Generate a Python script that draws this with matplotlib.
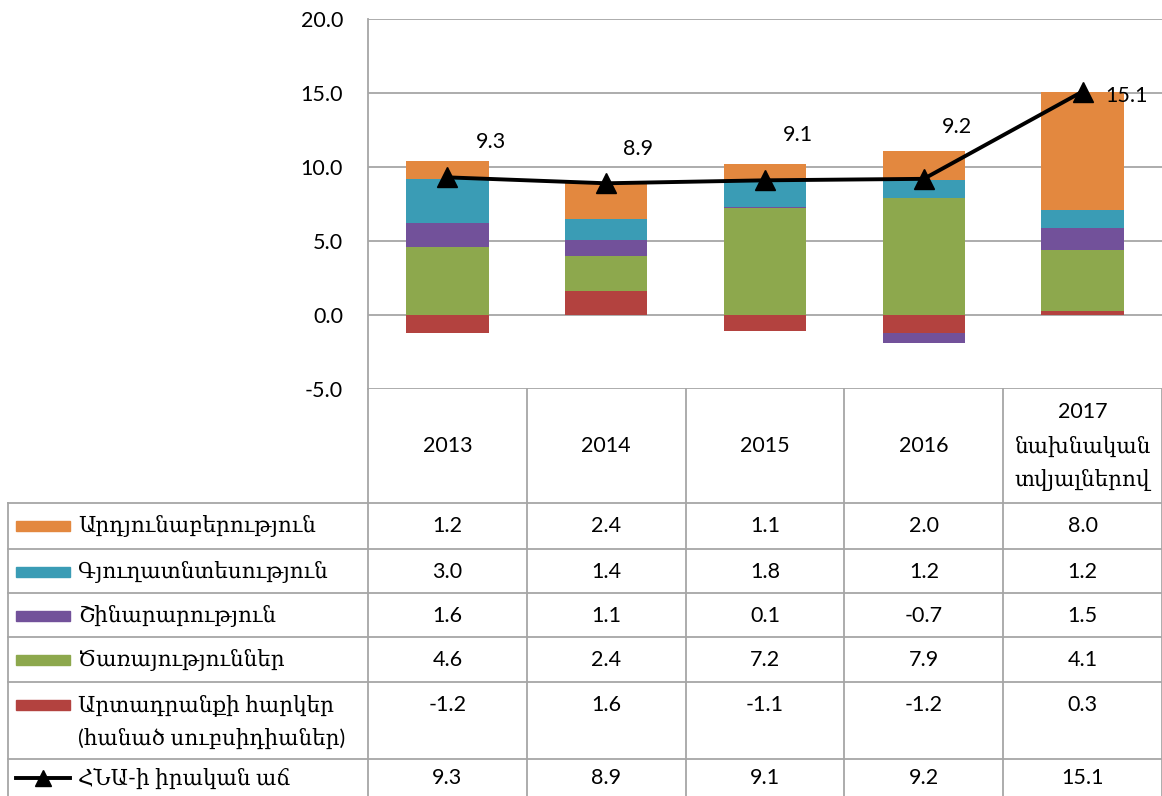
import numpy as np
import matplotlib.pyplot as plt
from matplotlib.patches import Rectangle

# data (table order, top to bottom)
years = ['2013', '2014', '2015', '2016', '2017']
header_labels = ['2013', '2014', '2015', '2016', '2017\nնախնական\nտվյալներով']

industry = [1.2, 2.4, 1.1, 2.0, 8.0]
agriculture = [3.0, 1.4, 1.8, 1.2, 1.2]
construction = [1.6, 1.1, 0.1, -0.7, 1.5]
services = [4.6, 2.4, 7.2, 7.9, 4.1]
taxes = [-1.2, 1.6, -1.1, -1.2, 0.3]
gdp_growth = [9.3, 8.9, 9.1, 9.2, 15.1]

series_names = ['Արդյունաբերություն', 'Գյուղատնտեսություն', 'Շինարարություն',
                'Ծառայություններ', 'Արտադրանքի հարկեր\n(հանած սուբսիդիաներ)']
gdp_name = 'ՀՆԱ-ի իրական աճ'

c_ind, c_agr, c_con, c_ser, c_tax = '#E3883F', '#3A9CB5', '#72519A', '#8DA84D', '#B3423F'
grid_c = '#A6A6A6'
FONT = ['Lato', 'DejaVu Serif']
FS = 15.5

W, H = 1162, 796
fig = plt.figure(figsize=(W / 100, H / 100), dpi=100)

# chart area in pixels
ax_l, ax_r, ax_t, ax_b = 368, 1162, 19, 389
ax = fig.add_axes([ax_l / W, 1 - ax_b / H, (ax_r - ax_l) / W, (ax_b - ax_t) / H])

x = np.arange(len(years))
#Excel style stacking: positives up, negatives down, series order from bottom
stack = [(taxes, c_tax), (services, c_ser), (construction, c_con), (agriculture, c_agr), (industry, c_ind)]
pos_base = np.zeros(len(x))
neg_base = np.zeros(len(x))
for vals, col in stack:
    v = np.array(vals)
    bottom = np.where(v >= 0, pos_base, neg_base)
    ax.bar(x, v, 0.52, bottom=bottom, color=col, zorder=2)
    pos_base += np.where(v >= 0, v, 0)
    neg_base += np.where(v < 0, v, 0)

ax.plot(x, gdp_growth, color='black', lw=2.8, marker='^', ms=14, zorder=4)
label_offsets = [(44, 35), (32, 34), (33, 45), (33, 52), (44, -4)]
for xi, v, off in zip(x, gdp_growth, label_offsets):
    ax.annotate(f"{v:.1f}", (xi, v), xytext=off, textcoords='offset pixels',
                ha='center', va='center', fontsize=FS, family=FONT, zorder=5)

ax.set_xlim(-0.5, 4.5)
ax.set_ylim(-5, 20)
ax.set_yticks(np.arange(-5, 20.1, 5))
ax.set_yticklabels([f"{t:.1f}" for t in np.arange(-5, 20.1, 5)], fontsize=FS, family=FONT)
ax.set_xticks([])
ax.tick_params(axis='y', length=0, pad=18)
ax.grid(axis='y', color=grid_c, lw=1.3, zorder=0)
for s in ['top', 'right', 'bottom']:
    ax.spines[s].set_visible(False)
ax.spines['left'].set_color(grid_c)
ax.spines['left'].set_linewidth(1.3)

# data table below the chart
px_per_unit = (ax_r - ax_l) / 5.0
def px2x(px):
    return -0.5 + (px - ax_l) / px_per_unit

tab_l = 8
tax_ = fig.add_axes([tab_l / W, 0, (W - tab_l) / W, (H - ax_b) / H])
tax_.set_xlim(px2x(tab_l), 4.5)
tax_.set_ylim(H, ax_b)
tax_.axis('off')

rows = [503, 549, 593, 637, 682, 759, 800]
for xv in np.arange(-0.5, 4.6, 1):
    tax_.plot([xv, xv], [ax_b, H], color=grid_c, lw=1.3, clip_on=False)
tax_.plot([px2x(tab_l), px2x(tab_l)], [rows[0], H], color=grid_c, lw=1.3, clip_on=False)
for yv in rows[:-1]:
    tax_.plot([px2x(tab_l), 4.5], [yv, yv], color=grid_c, lw=1.3, clip_on=False)

# header
line_h = 34
for xi, lab in zip(x, header_labels):
    lines = lab.split('\n')
    y0 = (ax_b + rows[0]) / 2 - (len(lines) - 1) * line_h / 2
    for k, ln in enumerate(lines):
        tax_.text(xi, y0 + k * line_h, ln, ha='center', va='center', fontsize=FS, family=FONT)

# rows
table_vals = [industry, agriculture, construction, services, taxes]
colors = [c_ind, c_agr, c_con, c_ser, c_tax]
sw_l, sw_r, txt_l = px2x(16), px2x(70), px2x(78)
for i, (name, vals, col) in enumerate(zip(series_names, table_vals, colors)):
    yc = rows[i] + 23
    tax_.add_patch(Rectangle((sw_l, yc - 5), sw_r - sw_l, 10, color=col))
    for k, ln in enumerate(name.split('\n')):
        tax_.text(txt_l, yc + k * 33, ln, ha='left', va='center', fontsize=FS, family=FONT)
    for xi, v in zip(x, vals):
        tax_.text(xi, yc, f"{v:.1f}", ha='center', va='center', fontsize=FS, family=FONT)

yc = rows[5] + 19
tax_.plot([sw_l, sw_r], [yc, yc], color='black', lw=2.8, clip_on=False)
tax_.plot([(sw_l + sw_r) / 2], [yc], marker='^', color='black', ms=11, clip_on=False)
tax_.text(txt_l, yc, gdp_name, ha='left', va='center', fontsize=FS, family=FONT)
for xi, v in zip(x, gdp_growth):
    tax_.text(xi, yc, f"{v:.1f}", ha='center', va='center', fontsize=FS, family=FONT)

fig.savefig('out.png', dpi=100)
